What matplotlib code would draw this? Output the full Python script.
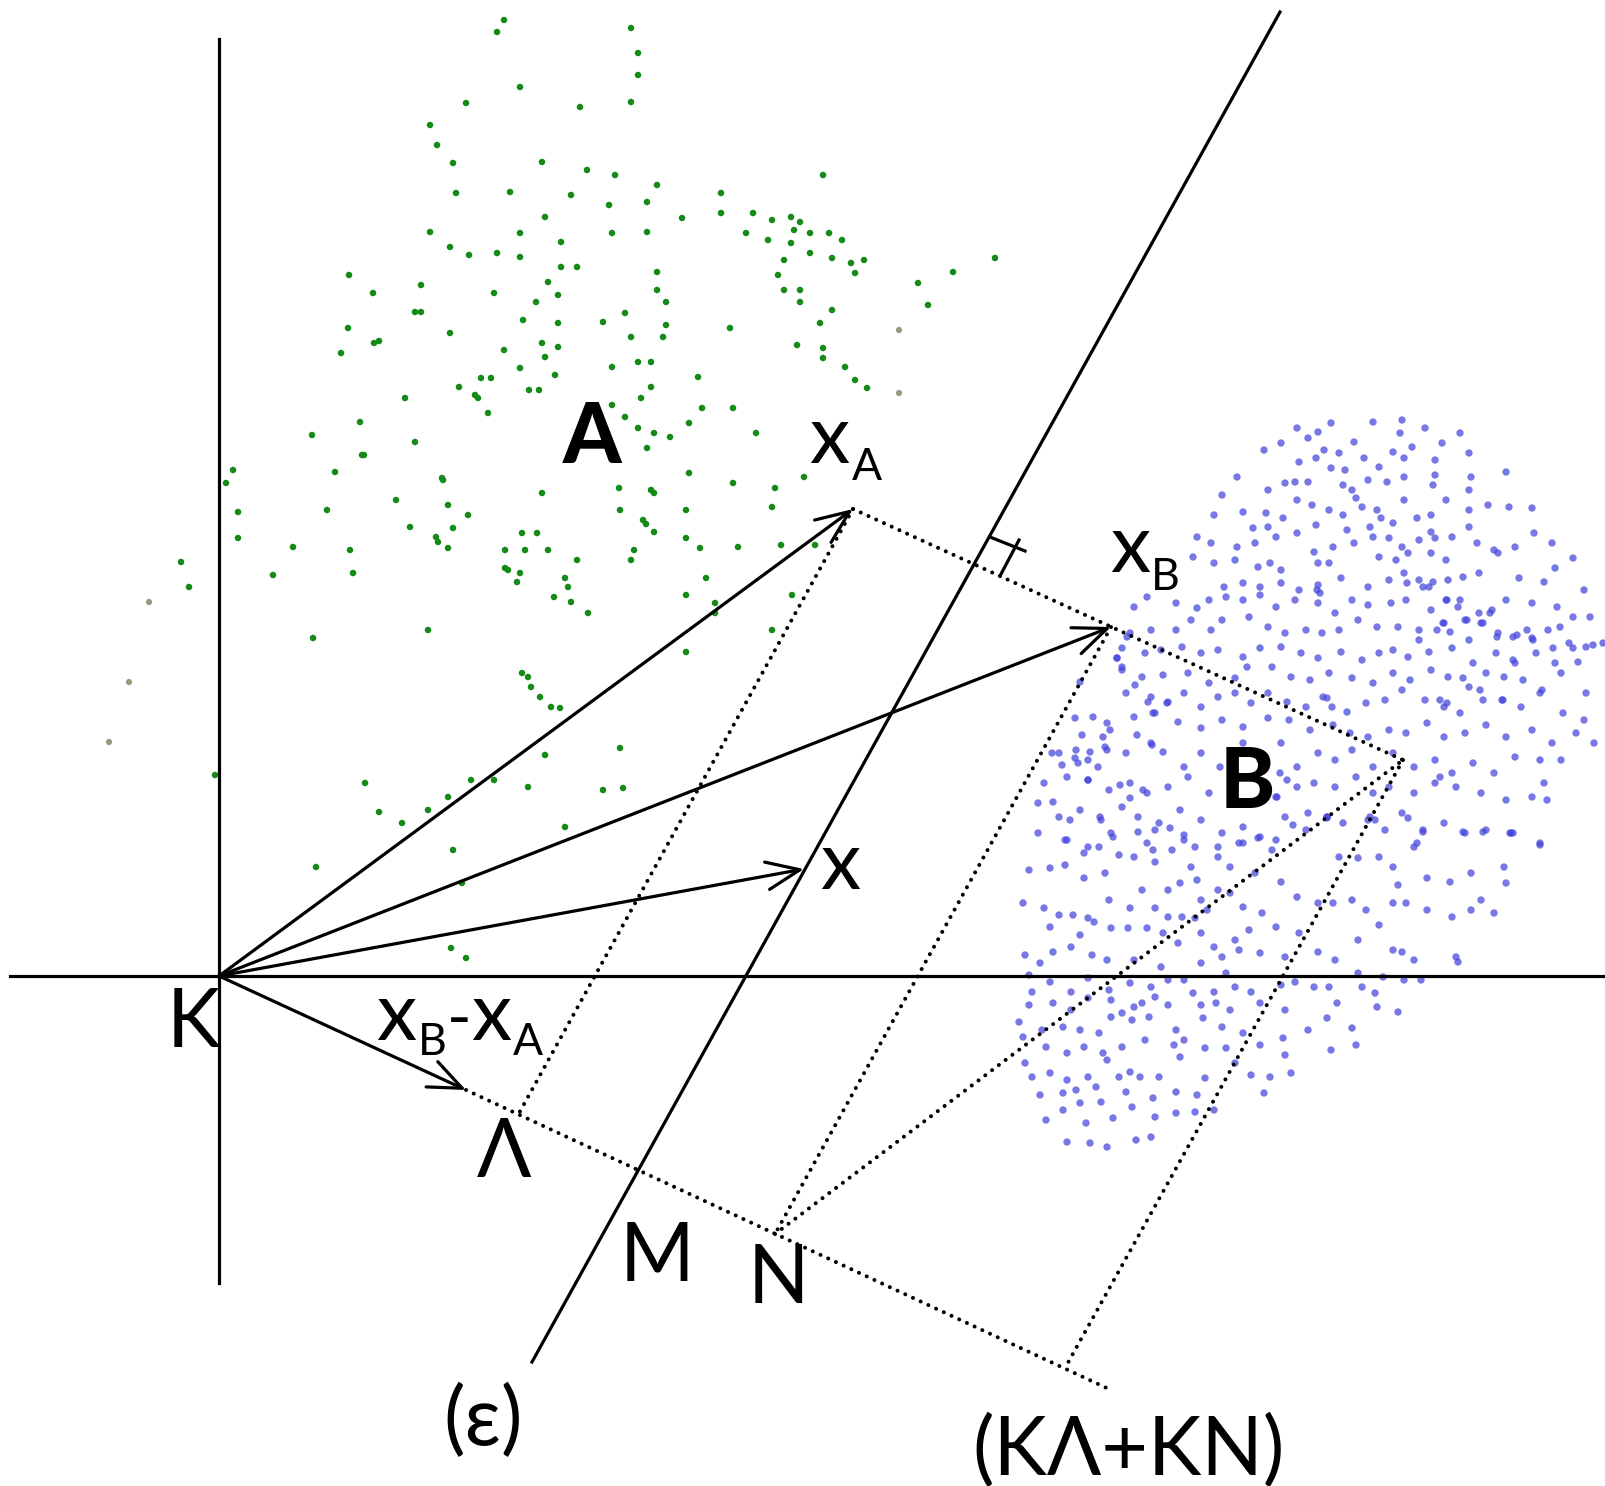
"""Vector diagram: two point clouds A and B, their means x_A, x_B and the separating line (e)."""

import numpy as np
import matplotlib
matplotlib.use("Agg")
import matplotlib.pyplot as plt

W, H = 1606, 1486          # canvas in pixels; data units = pixels, y grows downward
FONT = ["Lato", "Noto Sans", "DejaVu Sans"]

# --------------------------------------------------------------------------- #
# Geometry (pixel coordinates)                           #
# --------------------------------------------------------------------------- #
K = (219, 976)
XA = (853, 509)
XB = (1111, 627)
XP = (804, 869)            # the vector x ending on (e)
DIFF = (466, 1090)         # tip of x_B - x_A
LAM = (518, 1115)
NPT = (775, 1234)
CORNER = (1403, 760)
PSUM = (1065, 1368)
DOT_END = (1111, 1390)

VAXIS_X, VAXIS_Y = [219, 219], [39, 1283]
HAXIS_X, HAXIS_Y = [10, 1606], [976, 976]
EPS_X, EPS_Y = [532, 1280], [1362, 12]

RIGHT_ANGLE = [((990, 537), (1025, 551)), ((1019, 540), (1000, 576))]

# dotted construction lines: pairs of end points
DOTTED = [
    (XA, LAM),
    (XA, CORNER),
    (XB, NPT),
    (CORNER, PSUM),
    (NPT, CORNER),
    (DIFF, DOT_END),
]

ARROWS = [XA, XB, XP, DIFF]

# --------------------------------------------------------------------------- #
# Point clouds                                                                #
# --------------------------------------------------------------------------- #
GREEN_DOTS = [
    (504, 20), (497, 32), (631, 28), (638, 53), (638, 75), (631, 102), (520, 87),
    (466, 103), (580, 107), (430, 125), (437, 145), (453, 163), (542, 162),
    (587, 170), (615, 175), (657, 185), (823, 175), (721, 193), (721, 213),
    (647, 202), (609, 205), (571, 195), (510, 192), (456, 193), (545, 217),
    (430, 232), (450, 247), (469, 255), (497, 253), (520, 257), (520, 233),
    (561, 242), (612, 233), (647, 232), (682, 218), (746, 233), (753, 213),
    (772, 220), (791, 217), (800, 222), (794, 230), (768, 240), (791, 243),
    (810, 233), (829, 233), (842, 240), (810, 253), (784, 260), (832, 258),
    (851, 263), (864, 260), (855, 273), (995, 258), (953, 272), (918, 283),
    (928, 305), (778, 275), (784, 290), (800, 290), (800, 302), (832, 310),
    (820, 323), (797, 345), (823, 348), (823, 358), (845, 367), (855, 380),
    (867, 388), (657, 272), (657, 290), (666, 302), (666, 325), (663, 337),
    (631, 337), (625, 313), (603, 322), (577, 267), (561, 267), (548, 282),
    (558, 295), (536, 302), (523, 320), (558, 323), (542, 343), (558, 347),
    (545, 357), (504, 350), (520, 368), (529, 390), (539, 390), (491, 378),
    (481, 378), (459, 387), (475, 395), (478, 398), (488, 413), (555, 375),
    (612, 367), (638, 362), (651, 362), (651, 387), (641, 398), (612, 405),
    (625, 417), (638, 428), (654, 433), (670, 437), (689, 423), (702, 408),
    (733, 408), (756, 433), (698, 377), (730, 328), (494, 293), (421, 285),
    (421, 312), (415, 312), (450, 333), (373, 293), (349, 275), (348, 328),
    (341, 353), (374, 343), (379, 341), (405, 398), (360, 422), (312, 435),
    (364, 455), (335, 472), (415, 442), (443, 480), (542, 493), (619, 488),
    (651, 490), (654, 493), (689, 473), (733, 483), (775, 488), (804, 477),
    (647, 448), (233, 470), (226, 483), (362, 455), (442, 478), (238, 512),
    (327, 510), (396, 500), (448, 505), (468, 515), (410, 527), (436, 537),
    (438, 542), (453, 528), (448, 548), (238, 538), (293, 547), (350, 550),
    (353, 573), (273, 575), (620, 510), (643, 520), (646, 524), (654, 532),
    (686, 510), (686, 538), (700, 548), (738, 547), (772, 507), (781, 545),
    (815, 545), (634, 550), (631, 560), (522, 533), (537, 533), (505, 550),
    (525, 550), (548, 550), (505, 568), (508, 570), (520, 573), (517, 582),
    (577, 560), (565, 578), (568, 587), (554, 597), (571, 602), (588, 613),
    (706, 578), (686, 595), (715, 603), (715, 613), (792, 595), (772, 630),
    (686, 652), (428, 630), (313, 638), (181, 562), (189, 587), (215, 775),
    (522, 673), (528, 677), (531, 687), (540, 697), (551, 707), (560, 708),
    (545, 755), (620, 748), (365, 783), (471, 780), (494, 780), (528, 787),
    (603, 790), (623, 788), (448, 797), (428, 810), (379, 812), (402, 823),
    (565, 827), (453, 850), (316, 867), (462, 883), (451, 948), (466, 958),
]
GREY_DOTS = [(899, 330), (899, 393), (149, 602), (129, 682), (109, 742)]

BLUE_DOTS = [
    # upper part of cloud B
    (1318, 432), (1331, 423), (1297, 428), (1373, 422), (1402, 420), (1400, 433),
    (1425, 428), (1460, 433), (1308, 438), (1281, 443), (1324, 450), (1339, 453),
    (1354, 442), (1364, 458), (1393, 452), (1412, 447), (1442, 443), (1469, 453),
    (1264, 450), (1299, 462), (1316, 458), (1331, 468), (1345, 470), (1379, 467),
    (1404, 458), (1435, 460), (1237, 477), (1268, 490), (1285, 483), (1295, 482),
    (1308, 482), (1343, 485), (1352, 490), (1368, 480), (1387, 482), (1404, 477),
    (1435, 475), (1471, 477), (1506, 472), (1469, 490), (1433, 485), (1356, 498),
    (1222, 495), (1214, 515), (1243, 512), (1266, 513), (1283, 518), (1297, 500),
    (1312, 505), (1329, 510), (1343, 515), (1362, 507), (1377, 510), (1381, 518),
    (1404, 500), (1417, 518), (1431, 515), (1446, 500), (1469, 510), (1488, 505),
    (1509, 507), (1532, 508), (1253, 528), (1268, 527), (1316, 525), (1347, 530),
    (1370, 527), (1393, 523), (1431, 532), (1469, 527), (1197, 537), (1211, 543),
    (1237, 547), (1255, 543), (1276, 537), (1297, 533), (1314, 552), (1333, 547),
    (1354, 543), (1373, 537), (1389, 538), (1402, 547), (1419, 540), (1435, 538),
    (1452, 537), (1477, 543), (1494, 550), (1515, 547), (1534, 533), (1552, 543),
    (1573, 558), (1379, 557), (1396, 560), (1408, 553), (1431, 553), (1446, 560),
    (1193, 557), (1214, 563), (1235, 560), (1258, 567), (1270, 563), (1281, 570),
    (1318, 563), (1329, 563), (1341, 578), (1368, 587), (1389, 580), (1404, 573),
    (1419, 580), (1429, 587), (1448, 580), (1463, 577), (1479, 573), (1498, 553),
    (1519, 578), (1544, 582), (1555, 568), (1584, 590), (1224, 587), (1243, 583),
    (1260, 587), (1281, 583), (1299, 590), (1318, 585), (1134, 607), (1147, 597),
    (1176, 603), (1197, 608), (1209, 600), (1226, 597), (1243, 600), (1260, 595),
    (1276, 607), (1295, 600), (1318, 603), (1335, 613), (1352, 600), (1368, 605),
    (1391, 603), (1406, 600), (1431, 610), (1446, 600), (1458, 607), (1479, 613),
    (1492, 610), (1506, 600), (1532, 603), (1557, 607), (1573, 617), (1590, 617),
    (1130, 633), (1151, 630), (1176, 630), (1191, 620), (1211, 630), (1222, 620),
    (1249, 617), (1268, 627), (1285, 633), (1306, 630), (1322, 633), (1339, 630),
    (1358, 620), (1377, 627), (1398, 627), (1419, 630), (1444, 623), (1465, 620),
    (1481, 623), (1498, 633), (1513, 637), (1532, 638), (1548, 630), (1569, 643),
    (1586, 647), (1603, 643), (1469, 640), (1419, 640),
    (1317, 590), (1320, 593), (1407, 583), (1423, 587), (1433, 582), (1447, 600),
    (1460, 600), (1467, 620), (1443, 623), (1450, 632), (1437, 630), (1490, 613),
    (1483, 623), (1497, 637), (1517, 635), (1533, 640), (1527, 630), (1560, 627),
    (1573, 648), (1593, 645), (1553, 648), (1513, 660), (1463, 678),
    # middle band
    (1117, 658), (1145, 653), (1161, 650), (1182, 647), (1201, 653), (1218, 650),
    (1243, 657), (1260, 648), (1281, 647), (1301, 653), (1318, 658), (1341, 652),
    (1362, 660), (1379, 653), (1393, 650), (1408, 657), (1429, 652), (1452, 648),
    (1473, 663), (1496, 653), (1515, 663), (1536, 653), (1555, 663), (1578, 662),
    (1122, 670), (1142, 677), (1163, 675), (1188, 673), (1209, 683), (1235, 678),
    (1247, 667), (1272, 667), (1291, 677), (1310, 680), (1329, 673), (1352, 678),
    (1373, 683), (1393, 673), (1410, 680), (1431, 670), (1448, 677), (1469, 687),
    (1486, 673), (1504, 677), (1523, 680), (1542, 690), (1561, 673), (1586, 693),
    (1126, 693), (1151, 697), (1168, 702), (1184, 693), (1201, 707), (1218, 697),
    (1235, 693), (1251, 703), (1268, 693), (1287, 702), (1306, 707), (1327, 698),
    (1347, 712), (1366, 703), (1385, 700), (1402, 690), (1425, 700), (1444, 707),
    (1460, 713), (1483, 700), (1502, 700), (1521, 707), (1540, 693), (1563, 713),
    (1584, 720), (1134, 717), (1155, 713), (1178, 722), (1201, 728), (1222, 720),
    (1243, 727), (1268, 718), (1289, 720), (1310, 730), (1333, 725), (1350, 733),
    (1368, 737), (1389, 730), (1406, 733), (1427, 723), (1444, 737), (1465, 733),
    (1486, 725), (1506, 737), (1532, 730), (1552, 743), (1576, 733), (1594, 743),
    (1127, 637), (1122, 648), (1117, 658), (1122, 667), (1135, 685), (1080, 682),
    (1075, 718), (1093, 717), (1107, 723), (1110, 730), (1082, 735), (1103, 737),
    (1107, 750), (1090, 752), (1052, 753), (1075, 758), (1078, 763), (1062, 765),
    (1098, 767), (1088, 780), (1148, 702), (1167, 703), (1153, 713), (1137, 735),
    (1152, 745), (1120, 785), (1143, 790), (1130, 798), (1053, 802), (1070, 820),
    (1100, 817), (1440, 700), (1447, 703), (1480, 690), (1503, 700), (1323, 697),
    (1332, 707), (1440, 777), (1280, 773), (1287, 780), (1277, 797), (1547, 800),
    (1059, 753), (1076, 750), (1088, 760), (1105, 747), (1126, 753), (1151, 743),
    (1163, 752), (1184, 767), (1201, 753), (1220, 767), (1243, 743), (1260, 760),
    (1281, 743), (1297, 767), (1318, 753), (1335, 760), (1352, 750), (1373, 767),
    (1393, 753), (1414, 767), (1435, 760), (1452, 773), (1473, 763), (1494, 773),
    (1515, 757), (1540, 760), (1561, 760), (1044, 783), (1067, 777), (1088, 780),
    (1109, 790), (1130, 783), (1147, 793), (1168, 787), (1188, 777), (1209, 793),
    (1235, 783), (1255, 777), (1276, 797), (1297, 787), (1314, 783), (1335, 787),
    (1356, 777), (1373, 793), (1389, 787), (1414, 793), (1435, 783), (1456, 787),
    (1481, 793), (1506, 800), (1532, 797), (1544, 783), (1038, 803), (1059, 817),
    (1080, 810), (1101, 820), (1122, 807), (1138, 817), (1159, 823), (1180, 810),
    (1201, 820), (1222, 833), (1243, 827), (1260, 837), (1285, 817), (1306, 830),
    (1327, 817), (1343, 823), (1368, 820), (1385, 830), (1402, 813), (1423, 830),
    (1444, 823), (1465, 833), (1486, 830), (1511, 833), (1540, 843), (1038, 833),
    (1067, 840), (1088, 847), (1113, 837), (1147, 843), (1184, 840), (1218, 847),
    (1243, 843), (1276, 840), (1327, 817), (1370, 817), (1417, 843), (1510, 833),
    # lower part of cloud B
    (1029, 870), (1050, 868), (1065, 865), (1084, 878), (1105, 873), (1065, 840),
    (1111, 833), (1138, 832), (1155, 830), (1170, 828), (1184, 835), (1195, 847),
    (1172, 850), (1153, 850), (1134, 857), (1119, 855), (1099, 847), (1084, 853),
    (1218, 857), (1239, 843), (1258, 838), (1272, 850), (1293, 825), (1308, 813),
    (1327, 818), (1339, 857), (1358, 858), (1379, 857), (1393, 867), (1414, 847),
    (1427, 878), (1450, 882), (1471, 873), (1504, 867), (1506, 883), (1540, 845),
    (1513, 833), (1483, 832), (1463, 832), (1423, 832), (1408, 818), (1375, 820),
    (1191, 867), (1155, 862), (1230, 867), (1255, 873), (1023, 903), (1044, 908),
    (1059, 915), (1073, 915), (1088, 918), (1109, 900), (1130, 908), (1142, 890),
    (1155, 908), (1168, 890), (1180, 883), (1197, 880), (1201, 900), (1218, 890),
    (1230, 893), (1243, 907), (1262, 913), (1281, 882), (1297, 897), (1318, 903),
    (1333, 903), (1352, 900), (1366, 910), (1393, 903), (1406, 903), (1427, 910),
    (1452, 917), (1471, 910), (1494, 913), (1481, 900), (1398, 885), (1168, 917),
    (1182, 917), (1195, 918), (1207, 910), (1025, 955), (1040, 963), (1053, 952),
    (1071, 947), (1050, 927), (1080, 935), (1094, 922), (1111, 928), (1128, 928),
    (1147, 928), (1163, 933), (1178, 943), (1201, 933), (1214, 947), (1235, 940),
    (1249, 930), (1260, 953), (1276, 927), (1285, 957), (1299, 933), (1318, 952),
    (1335, 960), (1358, 940), (1379, 925), (1393, 950), (1402, 952), (1414, 960),
    (1456, 957), (1458, 962), (1134, 960), (1161, 967), (1092, 955), (1107, 960),
    (1201, 963), (1222, 957), (1239, 950), (1029, 975), (1032, 992), (1050, 982),
    (1071, 992), (1088, 978), (1109, 990), (1130, 983), (1151, 987), (1155, 997),
    (1168, 980), (1184, 980), (1193, 993), (1214, 992), (1226, 973), (1235, 987),
    (1251, 992), (1281, 985), (1295, 982), (1314, 987), (1329, 987), (1358, 973),
    (1362, 987), (1383, 977), (1404, 980), (1421, 980), (1375, 993), (1029, 1005),
    (1053, 1003), (1071, 1010), (1088, 998), (1111, 1000), (1134, 1007),
    (1142, 1003), (1168, 1005), (1201, 1005), (1216, 1003), (1230, 1010),
    (1260, 1003), (1285, 1010), (1337, 1003), (1377, 1007), (1398, 1012),
    (1019, 1022), (1042, 1030), (1063, 1027), (1080, 1030), (1099, 1033),
    (1111, 1017), (1122, 1013), (1132, 1020), (1149, 1017), (1176, 1030),
    (1184, 1040), (1203, 1018), (1222, 1027), (1243, 1033), (1260, 1045),
    (1283, 1038), (1308, 1030), (1327, 1018), (1352, 1028), (1356, 1045),
    (1331, 1050), (1023, 1037), (1046, 1047), (1067, 1053), (1084, 1047),
    (1103, 1053), (1122, 1047), (1145, 1040), (1174, 1045), (1180, 1057),
    (1205, 1048), (1226, 1048), (1285, 1055), (1025, 1063), (1032, 1077),
    (1050, 1073), (1067, 1080), (1088, 1077), (1107, 1060), (1119, 1077),
    (1130, 1072), (1140, 1077), (1159, 1077), (1176, 1092), (1197, 1095),
    (1205, 1078), (1235, 1063), (1251, 1075), (1270, 1077), (1291, 1073),
    (1264, 1093), (1040, 1095), (1063, 1093), (1076, 1090), (1096, 1087),
    (1126, 1092), (1153, 1098), (1046, 1120), (1063, 1110), (1080, 1103),
    (1101, 1102), (1113, 1118), (1132, 1107), (1155, 1117), (1176, 1113),
    (1195, 1112), (1214, 1110), (1067, 1142), (1090, 1143), (1107, 1147),
    (1136, 1140), (1151, 1137), (1086, 1123),
]

# --------------------------------------------------------------------------- #
# Labels: (text, x, baseline y, size pt, weight)                              #
# --------------------------------------------------------------------------- #
LABELS = [
    ("K", 193, 1047, 58, "normal"),
    ("Λ", 504, 1177, 58, "normal"),
    ("M", 657, 1281, 58, "normal"),
    ("N", 778, 1303, 58, "normal"),
    ("x", 840, 889, 58, "normal"),
    ("x", 829, 463, 58, "normal"),
    ("A", 867, 480, 32, "normal"),
    ("x", 1130, 572, 58, "normal"),
    ("B", 1165, 590, 32, "normal"),
    ("x", 396, 1040, 58, "normal"),
    ("B", 432, 1055, 32, "normal"),
    ("-", 459, 1040, 48, "normal"),
    ("x", 491, 1040, 58, "normal"),
    ("A", 528, 1055, 32, "normal"),
    ("A", 592, 463, 60, "black"),
    ("B", 1247, 808, 60, "black"),
    ("(ε)", 483, 1445, 58, "normal"),
    ("(KΛ+KN)", 1129, 1475, 58, "normal"),
]


def main() -> None:
    fig = plt.figure(figsize=(W / 100, H / 100), dpi=100)
    ax = fig.add_axes([0, 0, 1, 1])
    ax.set_xlim(0, W)
    ax.set_ylim(H, 0)
    ax.axis("off")

    # clouds
    g = np.array(GREEN_DOTS)
    ax.scatter(g[:, 0], g[:, 1], s=22, color="#168a16", edgecolors="none", zorder=1)
    gr = np.array(GREY_DOTS)
    ax.scatter(gr[:, 0], gr[:, 1], s=20, color="#9a9a80", edgecolors="none", zorder=1)
    b = np.array(BLUE_DOTS)
    ax.scatter(b[:, 0], b[:, 1], s=28, color="#4444dc", alpha=0.72,
               edgecolors="none", zorder=1)

    # axes through K and the line (e)
    lw = 2.3
    ax.plot(VAXIS_X, VAXIS_Y, color="black", lw=lw, zorder=2)
    ax.plot(HAXIS_X, HAXIS_Y, color="black", lw=lw, zorder=2)
    ax.plot(EPS_X, EPS_Y, color="black", lw=lw, zorder=2)

    # dotted construction lines
    for (x0, y0), (x1, y1) in DOTTED:
        ax.plot([x0, x1], [y0, y1], color="black", lw=2.9,
                linestyle=(0, (0.01, 2.1)), dash_capstyle="round", zorder=2)

    # right-angle mark
    for (x0, y0), (x1, y1) in RIGHT_ANGLE:
        ax.plot([x0, x1], [y0, y1], color="black", lw=lw, zorder=2)

    # vectors from K
    for tip in ARROWS:
        ax.annotate("", xy=tip, xytext=K,
                    arrowprops=dict(arrowstyle="->,head_length=1.2,head_width=0.5",
                                    lw=lw, color="black", shrinkA=0, shrinkB=0,
                                    mutation_scale=20),
                    zorder=3)

    for text, x, y, size, weight in LABELS:
        ax.text(x, y, text, fontsize=size, fontweight=weight, family=FONT,
                ha="center", va="baseline", color="black", zorder=4)

    fig.savefig("out.png", dpi=100)
    plt.close(fig)


if __name__ == "__main__":
    main()
